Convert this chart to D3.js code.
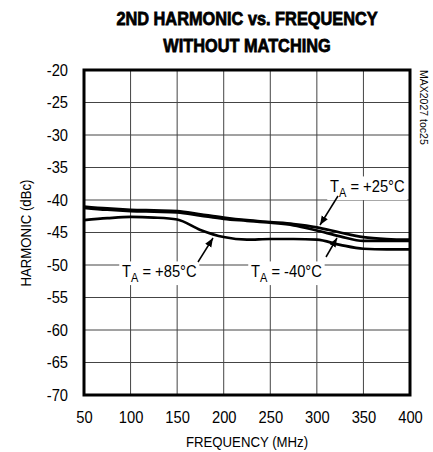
<!DOCTYPE html>
<html>
<head>
<meta charset="utf-8">
<script src="https://cdn.jsdelivr.net/npm/d3@7"></script>
<style>
  body { margin: 0; background: #fff; }
  text { font-family: "Liberation Sans", Arial, sans-serif; fill: #000; }
</style>
</head>
<body>
<div id="chart"></div>
<script>
    // Chart data
    var freq = [50, 75, 100, 125, 150, 175, 200, 225, 250, 275, 300, 325, 350, 375, 400];
    var harm25 = [-41.0, -41.3, -41.5, -41.6, -41.7, -42.2, -42.7, -43.1, -43.4, -43.7, -44.2, -45.0, -45.7, -46.0, -46.1];
    var harmM40 = [-41.2, -41.5, -41.7, -41.8, -41.9, -42.4, -42.9, -43.2, -43.5, -43.9, -44.7, -45.6, -46.3, -46.3, -46.3];
    var harm85 = [-43.1, -42.8, -42.6, -42.7, -43.0, -44.6, -45.7, -46.1, -46.0, -46.0, -46.1, -46.9, -47.5, -47.6, -47.6];
    var xTicks = [50, 100, 150, 200, 250, 300, 350, 400];
    var yTicks = [-20, -25, -30, -35, -40, -45, -50, -55, -60, -65, -70];

    var W = 433, H = 452;
    var plot = { left: 84, right: 410, top: 70, bottom: 395 };
    var narrow = 0.88; // no condensed font installed, squeeze the text instead

    var svg = d3.select("#chart").append("svg")
      .attr("width", W)
      .attr("height", H);

    var x = d3.scaleLinear().domain([50, 400]).range([plot.left, plot.right]);
    var y = d3.scaleLinear().domain([-70, -20]).range([plot.bottom, plot.top]);

    // Squeezed text helper
    function ntext(px, py, str, size, sx, anchor) {
      return svg.append("text")
        .attr("transform", "translate(" + px + "," + py + ") scale(" + sx + ",1)")
        .attr("text-anchor", anchor || "middle")
        .style("font-size", size + "px")
        .text(str);
    }

    // Title (stroked a little to look heavier)
    ntext(247, 25, "2ND HARMONIC vs. FREQUENCY", 19, 0.86)
      .style("font-weight", "bold").attr("stroke", "#000").attr("stroke-width", 0.8);
    ntext(247, 52, "WITHOUT MATCHING", 19, 0.86)
      .style("font-weight", "bold").attr("stroke", "#000").attr("stroke-width", 0.8);

    // Grid
    var grid = svg.append("g").attr("stroke", "#444").attr("stroke-width", 1);
    grid.selectAll(".vx").data(xTicks).enter().append("line")
      .attr("x1", function (d) { return x(d); }).attr("x2", function (d) { return x(d); })
      .attr("y1", plot.top).attr("y2", plot.bottom);
    grid.selectAll(".hy").data(yTicks).enter().append("line")
      .attr("y1", function (d) { return y(d); }).attr("y2", function (d) { return y(d); })
      .attr("x1", plot.left).attr("x2", plot.right);

    // Axes (labels only, the frame is drawn separately)
    var xAxis = svg.append("g")
      .attr("transform", "translate(0," + plot.bottom + ")")
      .call(d3.axisBottom(x).tickValues(xTicks).tickSize(0).tickPadding(17));
    var yAxis = svg.append("g")
      .attr("transform", "translate(" + plot.left + ",0)")
      .call(d3.axisLeft(y).tickValues(yTicks).tickSize(0).tickPadding(16 / 0.92)
        .tickFormat(function (d) { return "-" + Math.abs(d); }));
    [xAxis, yAxis].forEach(function (a) {
      a.select(".domain").remove();
      a.selectAll("text").style("font-size", "16px")
        .style("font-family", "\"Liberation Sans\", Arial, sans-serif")
        .attr("transform", "scale(0.92,1)");
    });

    // Axis titles
    ntext(247, 447, "FREQUENCY (MHz)", 15, narrow);
    svg.append("text").attr("transform", "translate(31,233) rotate(-90) scale(" + narrow + ",1)")
      .attr("text-anchor", "middle").style("font-size", "15px").text("HARMONIC (dBc)");

    // Side code
    svg.append("text").attr("transform", "translate(420,70) rotate(90)")
      .style("font-size", "10.5px").text("MAX2027 toc25");

    // Labels with white backgrounds
    function label(tx, ty, temp) {
      var g = svg.append("g").attr("transform", "translate(" + tx + "," + ty + ") scale(0.92,1)");
      var t = g.append("text").style("font-size", "16px");
      t.append("tspan").text("T");
      t.append("tspan").attr("dy", 5).style("font-size", "12px").text("A");
      t.append("tspan").attr("dy", -5).text(" = " + temp + "\u00B0C");
      var b = t.node().getBBox();
      g.insert("rect", "text").attr("x", b.x - 3).attr("y", b.y - 1)
        .attr("width", b.width + 6).attr("height", b.height + 2).attr("fill", "#fff");
    }
    label(122, 277, "+85");
    label(251, 277, "-40");
    label(330, 192, "+25");

    // Curves
    var line = d3.line()
      .x(function (d) { return x(d[0]); })
      .y(function (d) { return y(d[1]); })
      .curve(d3.curveMonotoneX);
    [harm25, harmM40, harm85].forEach(function (s) {
      svg.append("path")
        .datum(freq.map(function (f, i) { return [f, s[i]]; }))
        .attr("fill", "none").attr("stroke", "#000").attr("stroke-width", 2.7)
        .attr("d", line);
    });

    // Arrows
    svg.append("defs").append("marker")
      .attr("id", "ah").attr("viewBox", "0 0 10 10").attr("refX", 10).attr("refY", 5)
      .attr("markerWidth", 9).attr("markerHeight", 9).attr("markerUnits", "userSpaceOnUse")
      .attr("orient", "auto")
      .append("path").attr("d", "M0,1 L10,5 L0,9 Z").attr("fill", "#000");
    var arrows = [
      [198, 262, 213, 238],
      [326, 257, 337, 238],
      [338, 196, 320, 225]
    ];
    svg.selectAll(".arrow").data(arrows).enter().append("line")
      .attr("x1", function (d) { return d[0]; }).attr("y1", function (d) { return d[1]; })
      .attr("x2", function (d) { return d[2]; }).attr("y2", function (d) { return d[3]; })
      .attr("stroke", "#000").attr("stroke-width", 1.5).attr("marker-end", "url(#ah)");

    // Frame
    svg.append("rect").attr("x", plot.left).attr("y", plot.top)
      .attr("width", plot.right - plot.left).attr("height", plot.bottom - plot.top)
      .attr("fill", "none").attr("stroke", "#000").attr("stroke-width", 3);
</script>
</body>
</html>
